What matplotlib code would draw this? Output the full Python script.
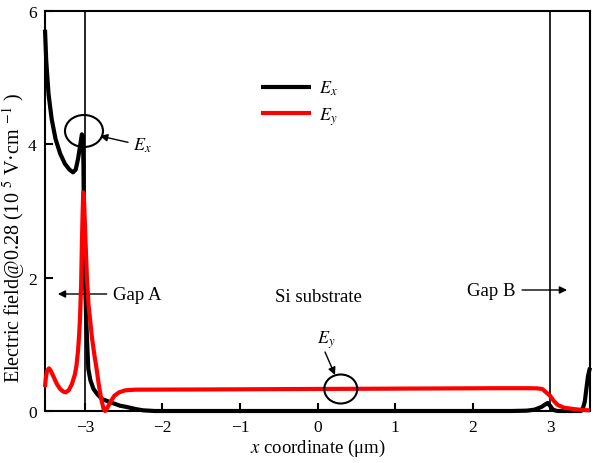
import matplotlib
matplotlib.use("Agg")
import matplotlib.pyplot as plt
from matplotlib.patches import Ellipse

plt.rcParams['font.family'] = ['Liberation Serif', 'DejaVu Serif']
plt.rcParams['mathtext.fontset'] = 'stix'

# ---- data ----
ex_x = [-3.516, -3.50, -3.47, -3.43, -3.38, -3.32, -3.26, -3.20, -3.155, -3.12, -3.09, -3.06,
        -3.04, -3.027, -3.02, -3.015, -3.005, -2.99, -2.975, -2.957, -2.93, -2.89, -2.84, -2.78,
        -2.67, -2.55, -2.46, -2.35, -2.25, -2.1, -1.0, 0.0, 1.0, 2.0, 2.5, 2.7, 2.8, 2.89, 2.94,
        2.97, 3.0, 3.03, 3.06, 3.1, 3.3, 3.4, 3.43, 3.45, 3.47, 3.49, 3.505, 3.516]
ex_y = [5.72, 5.25, 4.75, 4.38, 4.08, 3.86, 3.71, 3.62, 3.58, 3.62, 3.78, 4.0,
        4.15, 4.12, 3.7, 3.0, 2.2, 1.6, 1.1, 0.63, 0.46, 0.33, 0.25, 0.18,
        0.13, 0.08, 0.06, 0.03, 0.01, 0.0, 0.0, 0.0, 0.0, 0.0, 0.0, 0.005, 0.02, 0.06, 0.1,
        0.12, 0.08, 0.03, 0.01, 0.0, 0.0, 0.0, 0.06, 0.15, 0.34, 0.52, 0.6, 0.65]

ey_x = [-3.516, -3.505, -3.49, -3.465, -3.44, -3.40, -3.36, -3.32, -3.28, -3.25, -3.21, -3.17,
        -3.13, -3.11, -3.09, -3.075, -3.064, -3.05, -3.04, -3.03, -3.022, -3.01, -2.995, -2.975,
        -2.955, -2.935, -2.91, -2.88, -2.85, -2.82, -2.79, -2.76, -2.74, -2.71, -2.67, -2.62,
        -2.56, -2.48, -2.35, -1.5, -0.5, 0.5, 1.5, 2.3, 2.7, 2.83, 2.9, 2.95, 3.0, 3.05, 3.1,
        3.18, 3.3, 3.42, 3.516]
ey_y = [0.36, 0.5, 0.6, 0.64, 0.6, 0.5, 0.4, 0.33, 0.29, 0.28, 0.31, 0.4,
        0.55, 0.68, 0.9, 1.15, 1.4, 1.9, 2.5, 3.0, 3.28, 3.1, 2.6, 2.0,
        1.6, 1.38, 1.1, 0.85, 0.63, 0.38, 0.18, 0.03, 0.0, 0.05, 0.14, 0.23,
        0.28, 0.31, 0.32, 0.323, 0.328, 0.333, 0.338, 0.342, 0.342, 0.34, 0.33, 0.28, 0.23, 0.15, 0.09,
        0.05, 0.03, 0.015, 0.01]

x_ticks = [-3, -2, -1, 0, 1, 2, 3]
x_ticklabels = ['\u22123', '\u22122', '\u22121', '0', '1', '2', '3']
y_ticks = [0, 2, 4, 6]
gap_lines = [-3, 3]

fig = plt.figure(figsize=(5.93, 4.64), dpi=100)
ax = fig.add_axes([45/593, 52/464, 545/593, 400/464])

for g in gap_lines:
    ax.axvline(g, color='black', lw=1.2, zorder=1)

ax.plot(ex_x, ex_y, color='black', lw=3, label='$E_x$', zorder=3, clip_on=False,
        solid_capstyle='butt')
ax.plot(ey_x, ey_y, color='#ff0000', lw=3, label='$E_y$', zorder=4, clip_on=False,
        solid_capstyle='butt')

ax.set_xlim(-3.516, 3.516)
ax.set_ylim(0, 6)
ax.set_xticks(x_ticks)
ax.set_xticklabels(x_ticklabels)
ax.set_yticks(y_ticks)
ax.tick_params(direction='in', length=6, width=1.5, labelsize=12.5, top=False, right=False, pad=6)
for s in ax.spines.values():
    s.set_linewidth(1.5)

ax.set_xlabel('$x$ coordinate (\u03bcm)', fontsize=13.5, labelpad=1)
ax.set_ylabel('Electric field@0.28 (10 $^5$ V\u00b7cm $^{-1}$ )', fontsize=14.5)
ax.yaxis.set_label_coords(-0.031, 0.435)

leg = ax.legend(loc='upper left', bbox_to_anchor=(0.38, 0.853), frameon=False,
                fontsize=13, handlelength=2.75, handletextpad=0.45, labelspacing=0.45,
                borderpad=0)

# annotations
ax.add_patch(Ellipse((-3.013, 4.2), 0.49, 0.48, fill=False, lw=1.5, color='black', zorder=5))
ax.add_patch(Ellipse((0.30, 0.33), 0.426, 0.435, fill=False, lw=1.5, color='black', zorder=5))

arr = dict(arrowstyle='-|>', color='black', lw=1.0, mutation_scale=11, shrinkA=0, shrinkB=0)
ax.annotate('', xy=(-3.35, 1.755), xytext=(-2.72, 1.755), arrowprops=arr)
ax.text(-2.64, 1.755, 'Gap A', fontsize=13.5, va='center', ha='left')
ax.annotate('', xy=(3.22, 1.815), xytext=(2.64, 1.815), arrowprops=arr)
ax.text(2.56, 1.815, 'Gap B', fontsize=13.5, va='center', ha='right')
ax.text(0.006, 1.72, 'Si substrate', fontsize=13.5, va='center', ha='center')
ax.annotate('', xy=(-2.806, 4.125), xytext=(-2.445, 4.03), arrowprops=arr)
ax.text(-2.38, 4.0, '$E_x$', fontsize=13, va='center', ha='left')
ax.annotate('', xy=(0.226, 0.54), xytext=(0.097, 0.885), arrowprops=arr)
ax.text(0.11, 1.07, '$E_y$', fontsize=13, va='center', ha='center')

fig.savefig('out.png', dpi=100)
